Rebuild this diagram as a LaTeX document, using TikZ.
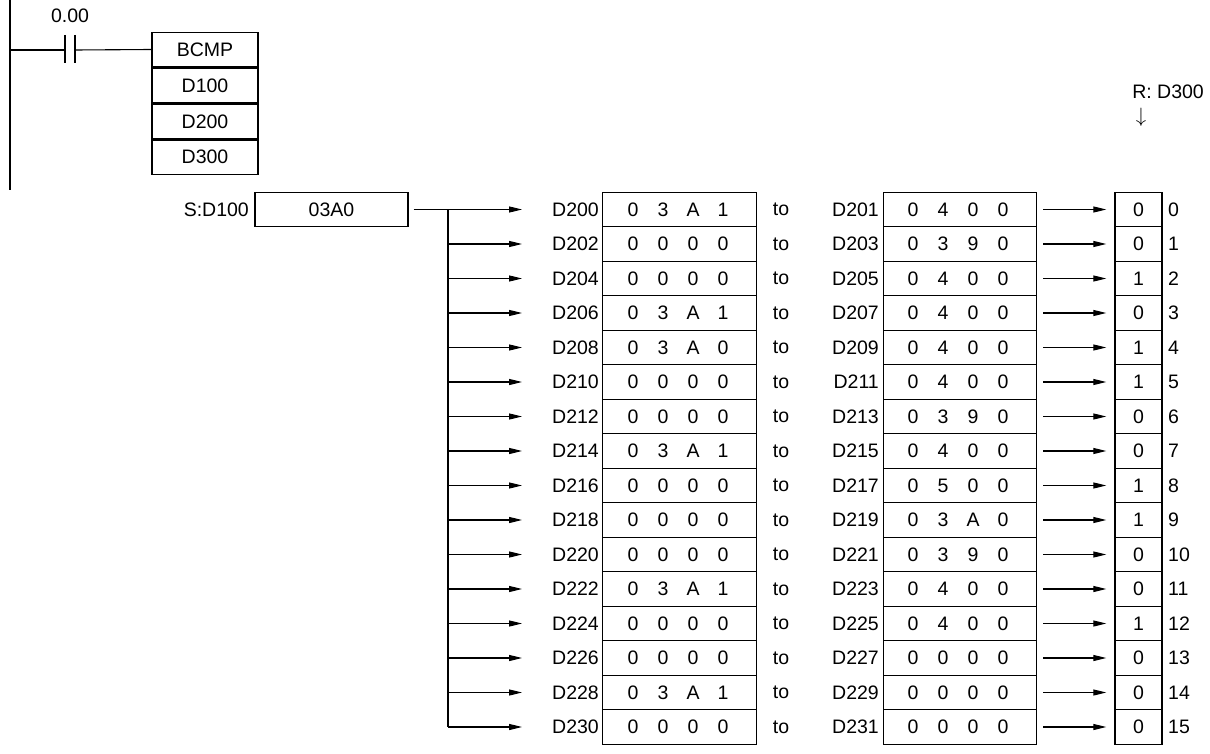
\documentclass[tikz,border=0pt]{standalone}
\usepackage{fontspec}
\setmainfont{Liberation Sans}
\usetikzlibrary{arrows.meta, positioning}
\tikzset{
  cell/.style={draw, line width=1.4pt, minimum height=34.5pt, inner sep=0pt},
  lbl/.style={inner sep=0pt},
  flow/.style={line width=1.1pt, -{Stealth[length=13pt, width=6pt, inset=0pt]}},
  wire/.style={line width=1.1pt},
}
\begin{document}
\begin{tikzpicture}[x=1pt, y=-1pt, font=\fontsize{19.5}{23}\selectfont]
    \useasboundingbox (0,0) rectangle (1210,754);

    % ladder rung
    \draw[wire, line width=1.4pt] (10,0) -- (10,190);
    \coordinate (rl) at (10,50);
    \coordinate (ca) at (65,50);
    \coordinate (cb) at (75,50);
    \draw[wire] (rl) -- (ca);
    \draw[line width=1.4pt] (65,35) -- (65,63) (75,35) -- (75,63);
    \node[lbl] (cnum) at (70,16) {0.00};
    \node[cell, minimum width=106pt] (bcmp) at (205,49.5) {BCMP};
    \node[cell, minimum width=106pt, below=0pt of bcmp] (op1) {D100};
    \node[cell, minimum width=106pt, below=0pt of op1] (op2) {D200};
    \node[cell, minimum width=106pt, below=0pt of op2] (op3) {D300};
    \draw[wire] (cb) -- (bcmp.west);

    % source word
    \node[cell, minimum width=153pt] (src) at (331.5,209.5) {03A0};
    \node[lbl, anchor=east] (srclbl) at (249,209.5) {S:D100};
    \coordinate (trunk) at (448,209.5);
    \draw[wire] ([xshift=5pt]src.east) -- (trunk);

    % result header
    \node[lbl, anchor=east] (rlbl) at (1204,92) {R: D300};
    \node[lbl] (rarr) at (1141,117) {$\downarrow$};

    % comparison table
    \foreach \i/\la/\lb/\lc/\ld/\ra/\rb/\rc/\rd/\r in {
        0/0/3/A/1/0/4/0/0/0, 1/0/0/0/0/0/3/9/0/0, 2/0/0/0/0/0/4/0/0/1,
        3/0/3/A/1/0/4/0/0/0, 4/0/3/A/0/0/4/0/0/1, 5/0/0/0/0/0/4/0/0/1,
        6/0/0/0/0/0/3/9/0/0, 7/0/3/A/1/0/4/0/0/0, 8/0/0/0/0/0/5/0/0/1,
        9/0/0/0/0/0/3/A/0/1, 10/0/0/0/0/0/3/9/0/0, 11/0/3/A/1/0/4/0/0/0,
        12/0/0/0/0/0/4/0/0/1, 13/0/0/0/0/0/0/0/0/0, 14/0/3/A/1/0/0/0/0/0,
        15/0/0/0/0/0/0/0/0/0} {
      \pgfmathsetmacro{\y}{209.5+34.5*\i}
      \pgfmathtruncatemacro{\lo}{200+2*\i}
      \pgfmathtruncatemacro{\hi}{201+2*\i}
      \coordinate (br-\i) at (448,\y);
      \node[cell, minimum width=153.5pt] (lo-\i) at (679.5,\y) {};
      \node[cell, minimum width=153.5pt] (hi-\i) at (960,\y) {};
      \node[cell, minimum width=47pt] (res-\i) at (1138.5,\y) {\r};
      \node[lbl, anchor=east] (lon-\i) at (599,\y) {D\lo};
      \node[lbl, anchor=east] (hin-\i) at (879,\y) {D\hi};
      \node[lbl] (to-\i) at (781,\y) {to};
      \node[lbl, anchor=west] (bit-\i) at (1168,\y) {\i};
      \foreach \k/\v/\w in {0/\la/\ra, 1/\lb/\rb, 2/\lc/\rc, 3/\ld/\rd} {
        \node[lbl] at (633+30*\k,\y) {\v};
        \node[lbl] at (913+30*\k,\y) {\w};
      }
      \draw[flow] (br-\i) -- ([xshift=-80pt]lo-\i.west);
      \draw[flow] ([xshift=6pt]hi-\i.east) -- ([xshift=-8pt]res-\i.west);
    }
    \draw[wire] (br-0) -- (br-15);
\end{tikzpicture}
\end{document}
